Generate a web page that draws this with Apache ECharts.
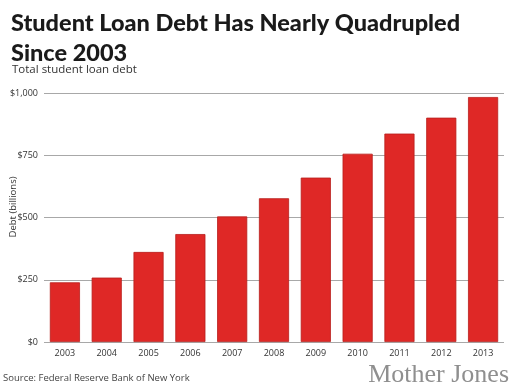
<!DOCTYPE html>
<html><head><meta charset="utf-8">
<script src="https://cdn.jsdelivr.net/npm/echarts@6/dist/echarts.min.js"></script>
<style>html,body{margin:0;padding:0;background:#fff}#c{width:510px;height:390px}</style>
</head><body><div id="c"></div>
<script>
const years = ['2003','2004','2005','2006','2007','2008','2009','2010','2011','2012','2013'];
const debt = [240, 259, 362, 434, 505, 578, 661, 757, 838, 902, 985];
const yTicks = [0, 250, 500, 750, 1000];

const chart = echarts.init(document.getElementById('c'), null, {renderer:'canvas'});
chart.setOption({
  backgroundColor:'#fff',
  animation:false,
  title:[
    {text:'Student Loan Debt Has Nearly Quadrupled\nSince 2003', left:11, top:8, padding:0,
     textStyle:{fontFamily:'Lato', fontWeight:900, fontSize:23.5, lineHeight:30.5, color:'#1a1a1a'}},
    {text:'Total student loan debt', left:12, top:64, padding:0,
     textStyle:{fontFamily:'Open Sans', fontWeight:'normal', fontSize:11.5, color:'#333'}},
    {text:'Source: Federal Reserve Bank of New York', left:3, top:373, padding:0,
     textStyle:{fontFamily:'Open Sans', fontWeight:'normal', fontSize:9.5, color:'#444'}},
    {text:'Mother Jones', right:1, top:362, padding:0,
     textStyle:{fontFamily:'Liberation Serif', fontWeight:'normal', fontSize:26, color:'#8f8f8f'}}
  ],
  graphic:[{type:'text', x:8, y:207, rotation:Math.PI/2, z:10,
    style:{text:'Debt (billions)', fontFamily:'Open Sans', fontSize:9.5, fill:'#333',
      align:'center', verticalAlign:'top'}}],
  grid:{left:44, right:6, top:93.3, bottom:48, containLabel:false, outerBoundsMode:'none'},
  xAxis:{type:'category', data:years,
    axisLine:{show:false}, axisTick:{show:false},
    axisLabel:{fontFamily:'Open Sans', fontSize:9, color:'#333', margin:7}},
  yAxis:{type:'value', min:0, max:1000, interval:250,
    axisLine:{show:false}, axisTick:{show:false},
    splitLine:{lineStyle:{color:'#a8a8a8', width:1.2}},
    axisLabel:{fontFamily:'Open Sans', fontSize:9, color:'#333', margin:6,
      formatter:v=> yTicks.includes(v) ? '$'+v.toLocaleString('en-US') : ''}},
  series:[{type:'bar', data:debt, barCategoryGap:'28%',
    itemStyle:{color:'#df2826', borderColor:'#b81e1c', borderWidth:0.8},
    z:3}]
});
</script></body></html>
